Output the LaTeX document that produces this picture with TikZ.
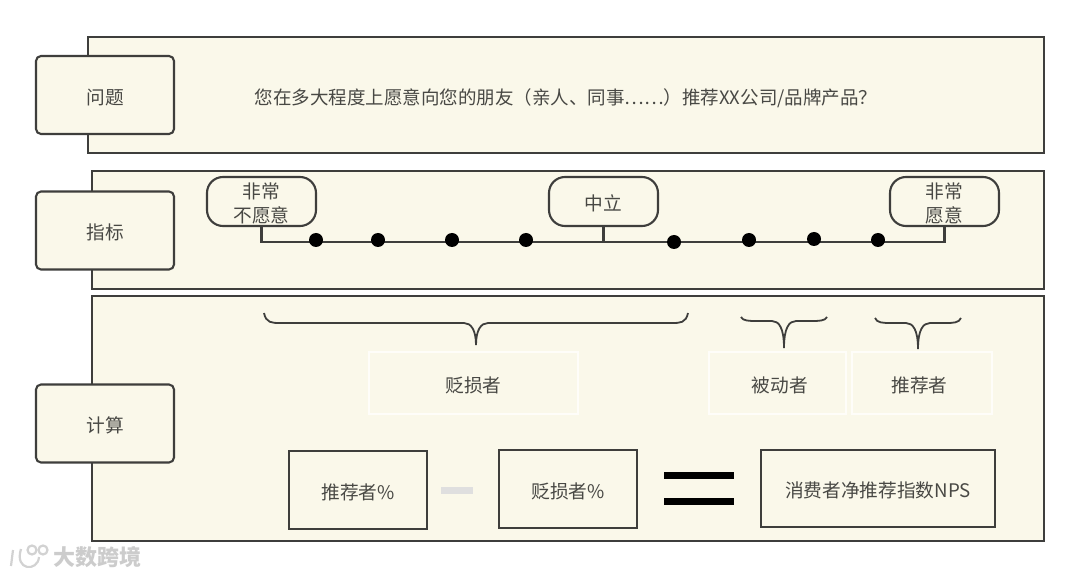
\documentclass[tikz,border=0pt]{standalone}
\usepackage{fontspec}
\setmainfont{Noto Sans CJK SC}
\usepackage{xcolor}
\usetikzlibrary{shapes,arrows,positioning}
\definecolor{paper}{RGB}{250, 248, 234}
\definecolor{ink}{RGB}{62, 62, 60}
\definecolor{txt}{RGB}{72, 72, 68}
% left x, right x, tip x, top y, bar y, tip y
\newcommand{\topbrace}[6]{%
  \draw[bracel] (#1,#4) .. controls ({#1+2},#5) and ({#1+8},#5) .. ({#1+16},#5)
    -- ({#3-12},#5) .. controls ({#3-5},#5) and (#3,{#5+7}) .. (#3,#6);
  \draw[bracel] (#2,#4) .. controls ({#2-2},#5) and ({#2-8},#5) .. ({#2-16},#5)
    -- ({#3+12},#5) .. controls ({#3+5},#5) and (#3,{#5+7}) .. (#3,#6);
}
\begin{document}
\begin{tikzpicture}[x=1pt, y=-1pt, text=txt,
  font=\fontsize{18.7}{24}\selectfont,
  panel/.style={rectangle, draw=ink, line width=2.3pt, fill=paper, inner sep=0pt},
  low1/.style={text height=18.5pt, text depth=0pt},
  tab/.style={rectangle, rounded corners=5pt, draw=ink, line width=2.1pt, fill=paper, minimum width=138pt, minimum height=78pt, inner sep=0pt, low1},
  pill/.style={rectangle, rounded corners=16pt, draw=ink, line width=2.1pt, fill=paper, minimum width=109pt, minimum height=49pt, inner sep=0pt},
  tick/.style={circle, fill=black, minimum size=14pt, inner sep=0pt, outer sep=0pt},
  hint/.style={rectangle, draw=white!70!paper, line width=1.5pt, minimum height=62pt, inner sep=0pt},
  calc/.style={rectangle, draw=ink, line width=2.3pt, fill=paper, minimum height=78pt, inner sep=0pt, low1},
  bar/.style={rectangle, fill=black, minimum width=70pt, minimum height=7pt, inner sep=0pt},
  bracel/.style={draw=ink, line width=1.8pt},
  wmark/.style={draw=gray!35, line width=2.2pt}]
  \useasboundingbox (0,0) rectangle (1080,577);
  \fill[white] (0,0) rectangle (1080,577);
  % three bands
  \node[panel, minimum width=956pt, minimum height=116pt] (pq) at (566,95) {};
  \node[panel, minimum width=952pt, minimum height=118pt] (pi) at (568,230) {};
  \node[panel, minimum width=952pt, minimum height=245pt] (pc) at (568,418.5) {};
  \node[tab] (tq) at (105,95) {问题};
  \node[tab] (ti) at (105,230.5) {指标};
  \node[tab] (tc) at (105,423.5) {计算};
  \node[low1, font=\fontsize{18.5}{24}\selectfont] (ask) at (566,95) {您在多大程度上愿意向您的朋友（亲人、同事……）推荐XX公司/品牌产品？};
  % scale
  \node[pill, label={[align=center, yshift=-2pt]center:非常\\不愿意}] (low) at (261.5,201.5) {};
  \node[pill, low1] (mid) at (603.5,201.5) {中立};
  \node[pill, label={[align=center, yshift=-2pt]center:非常\\愿意}] (high) at (944.5,201.5) {};
  \coordinate (rail) at (674,242);
  \draw[draw=ink, line width=2.1pt] (low.south) |- (rail) -| (high.south);
  \draw[draw=ink, line width=2.1pt] (mid.south) -- (mid.south |- rail);
  \node[tick] (d1) at (316,240) {};
  \node[tick, right=48pt of d1] (d2) {};
  \node[tick, right=60pt of d2] (d3) {};
  \node[tick, right=60pt of d3] (d4) {};
  \node[tick, right=134pt of d4, yshift=-2pt] (d5) {};
  \node[tick, right=61pt of d5, yshift=2pt] (d6) {};
  \node[tick, right=51pt of d6, yshift=1pt] (d7) {};
  \node[tick, right=50pt of d7, yshift=-1pt] (d8) {};
  % groups
  \topbrace{264}{688}{476}{313}{323}{345}
  \topbrace{741}{827}{784}{317}{321}{348}
  \topbrace{875}{961}{918}{318}{323}{349}
  \node[hint, minimum width=209pt, label={[yshift=-2pt]center:贬损者}] (det) at (473.5,383) {};
  \node[hint, minimum width=137pt, label={[xshift=2.5pt, yshift=-2pt]center:被动者}] (pas) at (777.5,383) {};
  \node[hint, minimum width=140pt, label={[xshift=-2.5pt, yshift=-2pt]center:推荐者}] (pro) at (922,383) {};
  % formula
  \node[calc, minimum width=138pt] (fp) at (358,490) {推荐者\%};
  \node[rectangle, fill=gray!25, minimum width=32pt, minimum height=7pt, inner sep=0pt, right=13pt of fp] (minus) {};
  \node[calc, minimum width=138pt] (fd) at (568,489) {贬损者\%};
  \node[bar] (eq1) at (699,475.5) {};
  \node[bar, below=19pt of eq1] (eq2) {};
  \node[calc, minimum width=234pt, minimum height=77pt] (nps) at (878,488.5) {消费者净推荐指数NPS};
  % watermark
  \node[text=gray!40, font=\bfseries\fontsize{22}{24}\selectfont, anchor=west] (wm) at (50,557.5) {大数跨境};
  \draw[wmark] (13,550) -- (11,566);
  \draw[wmark] (21,549) .. controls (14,571) and (38,572) .. (39,557);
  \node[circle, wmark, minimum size=9pt, inner sep=0pt] (o1) at (32,550) {};
  \node[circle, wmark, minimum size=9pt, inner sep=0pt] (o2) at (43,550) {};
\end{tikzpicture}
\end{document}
